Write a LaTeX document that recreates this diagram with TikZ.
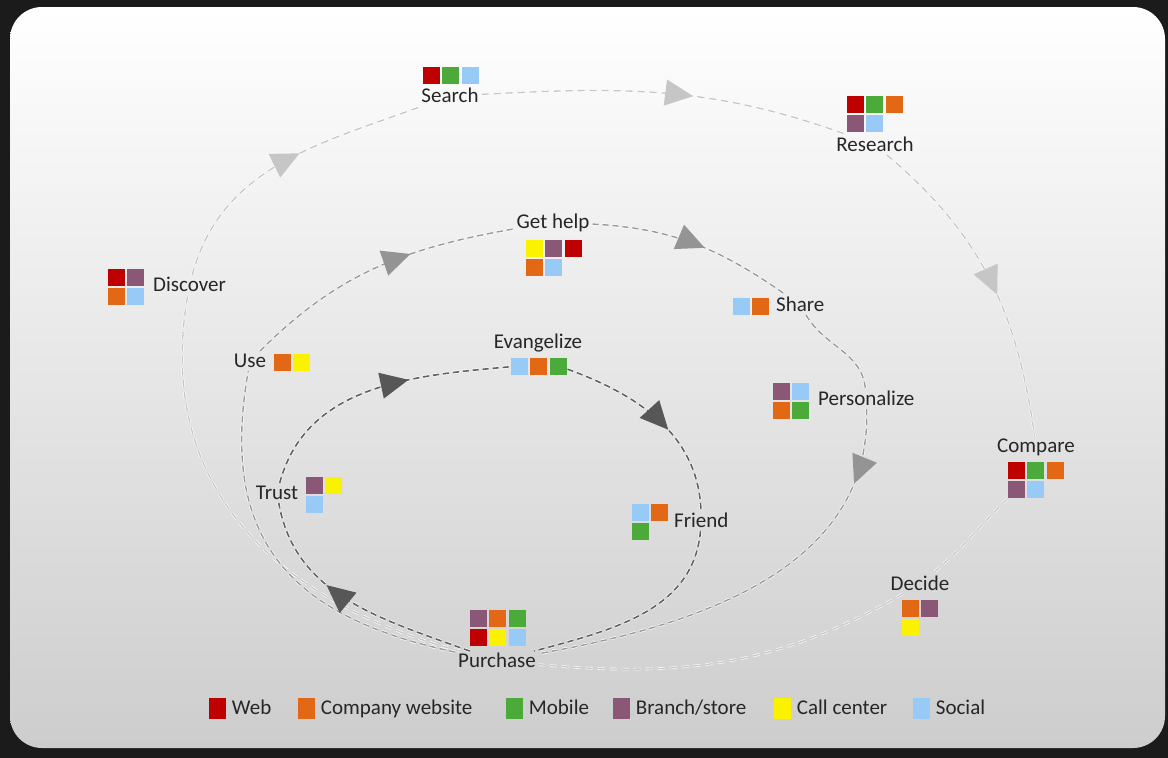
\documentclass[tikz,border=0pt]{standalone}
\usepackage{fontspec}
\setmainfont{Carlito}
\usetikzlibrary{arrows.meta, positioning, decorations.markings}

\definecolor{webred}{RGB}{190,0,0}
\definecolor{siteorange}{RGB}{226,104,22}
\definecolor{mobgreen}{RGB}{76,170,58}
\definecolor{storepurple}{RGB}{138,88,118}
\definecolor{callyellow}{RGB}{250,242,0}
\definecolor{socialblue}{RGB}{152,202,248}
\definecolor{panelgray}{RGB}{205,205,205}
\definecolor{paneltint}{RGB}{240,240,240}
\definecolor{framedark}{RGB}{27,27,27}

\begin{document}
\begin{tikzpicture}[
  x=1pt, y=-1pt,
  node distance=2.5pt,
  stage/.style={font=\fontsize{21}{25}\selectfont, text=black!85, text height=13.5pt, text depth=0pt, inner sep=3pt},
  keytext/.style={font=\fontsize{21}{25}\selectfont, text=black!85, text height=13.5pt, text depth=0pt, inner sep=0pt},
  chip/.style={rectangle, fill=#1, minimum size=17pt, inner sep=0pt},
  keychip/.style={chip=#1, minimum height=21pt},
  arrowat/.style 2 args={postaction={decorate}, decoration={markings, mark=at position #1 with {\arrow{Triangle[length=28pt, width=26pt, color=#2]}}}},
  outerloop/.style={draw=gray!45, line width=1.3pt, dash pattern=on 7pt off 5pt, preaction={draw=white, line width=2.6pt, dash pattern=on 7pt off 5pt}},
  middleloop/.style={draw=black!40, line width=1.4pt, dash pattern=on 6pt off 4pt, preaction={draw=white, line width=2.8pt, dash pattern=on 6pt off 4pt}},
  innerloop/.style={draw=black!62, line width=1.6pt, dash pattern=on 6pt off 4pt, preaction={draw=white, line width=3pt, dash pattern=on 6pt off 4pt}}
]
\useasboundingbox (0,0) rectangle (1168,758);
\fill[framedark] (0,0) rectangle (1168,758);
\shade[rounded corners=32pt, top color=white, middle color=paneltint, bottom color=panelgray] (10,7) rectangle (1165,748);

% Outer loop stages
\node[stage] (search) at (450,96) {Search};
\node[chip=webred] (srch1) at (431,75) {};
\node[chip=mobgreen, right=of srch1] (srch2) {};
\node[chip=socialblue, right=of srch2] (srch3) {};

\node[stage] (research) at (875,145) {Research};
\node[chip=webred] (rsch1) at (855,104) {};
\node[chip=mobgreen, right=of rsch1] (rsch2) {};
\node[chip=siteorange, right=of rsch2] (rsch3) {};
\node[chip=storepurple, below=of rsch1] (rsch4) {};
\node[chip=socialblue, right=of rsch4] (rsch5) {};

\node[stage, anchor=west] (discover) at (150,285) {Discover};
\node[chip=webred] (dsc1) at (116,277) {};
\node[chip=storepurple, right=of dsc1] (dsc2) {};
\node[chip=siteorange, below=of dsc1] (dsc3) {};
\node[chip=socialblue, right=of dsc3] (dsc4) {};

\node[stage] (compare) at (1036,446) {Compare};
\node[chip=webred] (cmp1) at (1016,470) {};
\node[chip=mobgreen, right=of cmp1] (cmp2) {};
\node[chip=siteorange, right=of cmp2] (cmp3) {};
\node[chip=storepurple, below=of cmp1] (cmp4) {};
\node[chip=socialblue, right=of cmp4] (cmp5) {};

\node[stage] (decide) at (920,584) {Decide};
\node[chip=siteorange] (dcd1) at (910,608) {};
\node[chip=storepurple, right=of dcd1] (dcd2) {};
\node[chip=callyellow, below=of dcd1] (dcd3) {};

\node[stage] (purchase) at (497,661) {Purchase};
\node[chip=storepurple] (pch1) at (478,618) {};
\node[chip=siteorange, right=of pch1] (pch2) {};
\node[chip=mobgreen, right=of pch2] (pch3) {};
\node[chip=webred, below=of pch1] (pch4) {};
\node[chip=callyellow, right=of pch4] (pch5) {};
\node[chip=socialblue, right=of pch5] (pch6) {};

% Middle loop stages
\node[stage] (gethelp) at (553,222) {Get help};
\node[chip=callyellow] (ghlp1) at (534,248) {};
\node[chip=storepurple, right=of ghlp1] (ghlp2) {};
\node[chip=webred, right=of ghlp2] (ghlp3) {};
\node[chip=siteorange, below=of ghlp1] (ghlp4) {};
\node[chip=socialblue, right=of ghlp4] (ghlp5) {};

\node[chip=socialblue] (shr1) at (741,306) {};
\node[chip=siteorange, right=of shr1] (shr2) {};
\node[stage, anchor=west] (share) at (773,305) {Share};

\node[stage] (use) at (250,361) {Use};
\node[chip=siteorange] (use1) at (282,362) {};
\node[chip=callyellow, right=of use1] (use2) {};

\node[chip=storepurple] (prs1) at (781,391) {};
\node[chip=socialblue, right=of prs1] (prs2) {};
\node[chip=siteorange, below=of prs1] (prs3) {};
\node[chip=mobgreen, right=of prs3] (prs4) {};
\node[stage, anchor=west] (personalize) at (815,399) {Personalize};

% Inner loop stages
\node[stage] (evangelize) at (538,342) {Evangelize};
\node[chip=socialblue] (evg1) at (519,366) {};
\node[chip=siteorange, right=of evg1] (evg2) {};
\node[chip=mobgreen, right=of evg2] (evg3) {};

\node[stage] (trust) at (277,493) {Trust};
\node[chip=storepurple] (tru1) at (314,485) {};
\node[chip=callyellow, right=of tru1] (tru2) {};
\node[chip=socialblue, below=of tru1] (tru3) {};

\node[chip=socialblue] (frn1) at (640,512) {};
\node[chip=siteorange, right=of frn1] (frn2) {};
\node[chip=mobgreen, below=of frn1] (frn3) {};
\node[stage, anchor=west] (friend) at (671,521) {Friend};

% Outer loop
\draw[outerloop] (purchase) to[out=165, in=-100, looseness=1.1] (discover);
\draw[outerloop, arrowat={0.56}{gray!45}] (discover) to[out=75, in=200] (search);
\draw[outerloop, arrowat={0.57}{gray!45}] (search) to[out=3, in=160] (research);
\draw[outerloop, arrowat={0.55}{gray!45}] (research) to[out=-40, in=98] (compare);
\draw[outerloop] (cmp4) to[out=-135, in=40] (decide);
\draw[outerloop] (decide) to[out=-150, in=-5] (purchase);

% Middle loop
\draw[middleloop, arrowat={0.63}{black!42}] (use) to[out=45, in=190] (gethelp);
\draw[middleloop, arrowat={0.55}{black!42}] (gethelp) to[out=-3, in=145] (share);
\draw[middleloop] (share) to[out=-60, in=95] (personalize);
\draw[middleloop, arrowat={0.17}{black!42}] (personalize) to[out=-88, in=10] (purchase);
\draw[middleloop] (purchase) to[out=168, in=-100, looseness=1.25] (use);

% Inner loop
\draw[innerloop, arrowat={0.63}{black!66}] (trust) to[out=75, in=185] (evg1);
\draw[innerloop, arrowat={0.57}{black!66}] (evg3) to[out=-20, in=92] (friend);
\draw[innerloop] (friend) to[out=-95, in=15] (purchase);
\draw[innerloop, arrowat={0.62}{black!66}] (purchase) to[out=160, in=-80] (trust);

% Legend
\node[keychip=webred] (kweb) at (217,708) {};
\node[keytext, right=6pt of kweb] (lweb) {Web};
\node[keychip=siteorange] (ksite) at (306,708) {};
\node[keytext, right=6pt of ksite] (lsite) {Company website};
\node[keychip=mobgreen] (kmob) at (514,708) {};
\node[keytext, right=6pt of kmob] (lmob) {Mobile};
\node[keychip=storepurple] (kstore) at (621,708) {};
\node[keytext, right=6pt of kstore] (lstore) {Branch/store};
\node[keychip=callyellow] (kcall) at (782,708) {};
\node[keytext, right=6pt of kcall] (lcall) {Call center};
\node[keychip=socialblue] (ksocial) at (921,708) {};
\node[keytext, right=6pt of ksocial] (lsocial) {Social};

\end{tikzpicture}
\end{document}
